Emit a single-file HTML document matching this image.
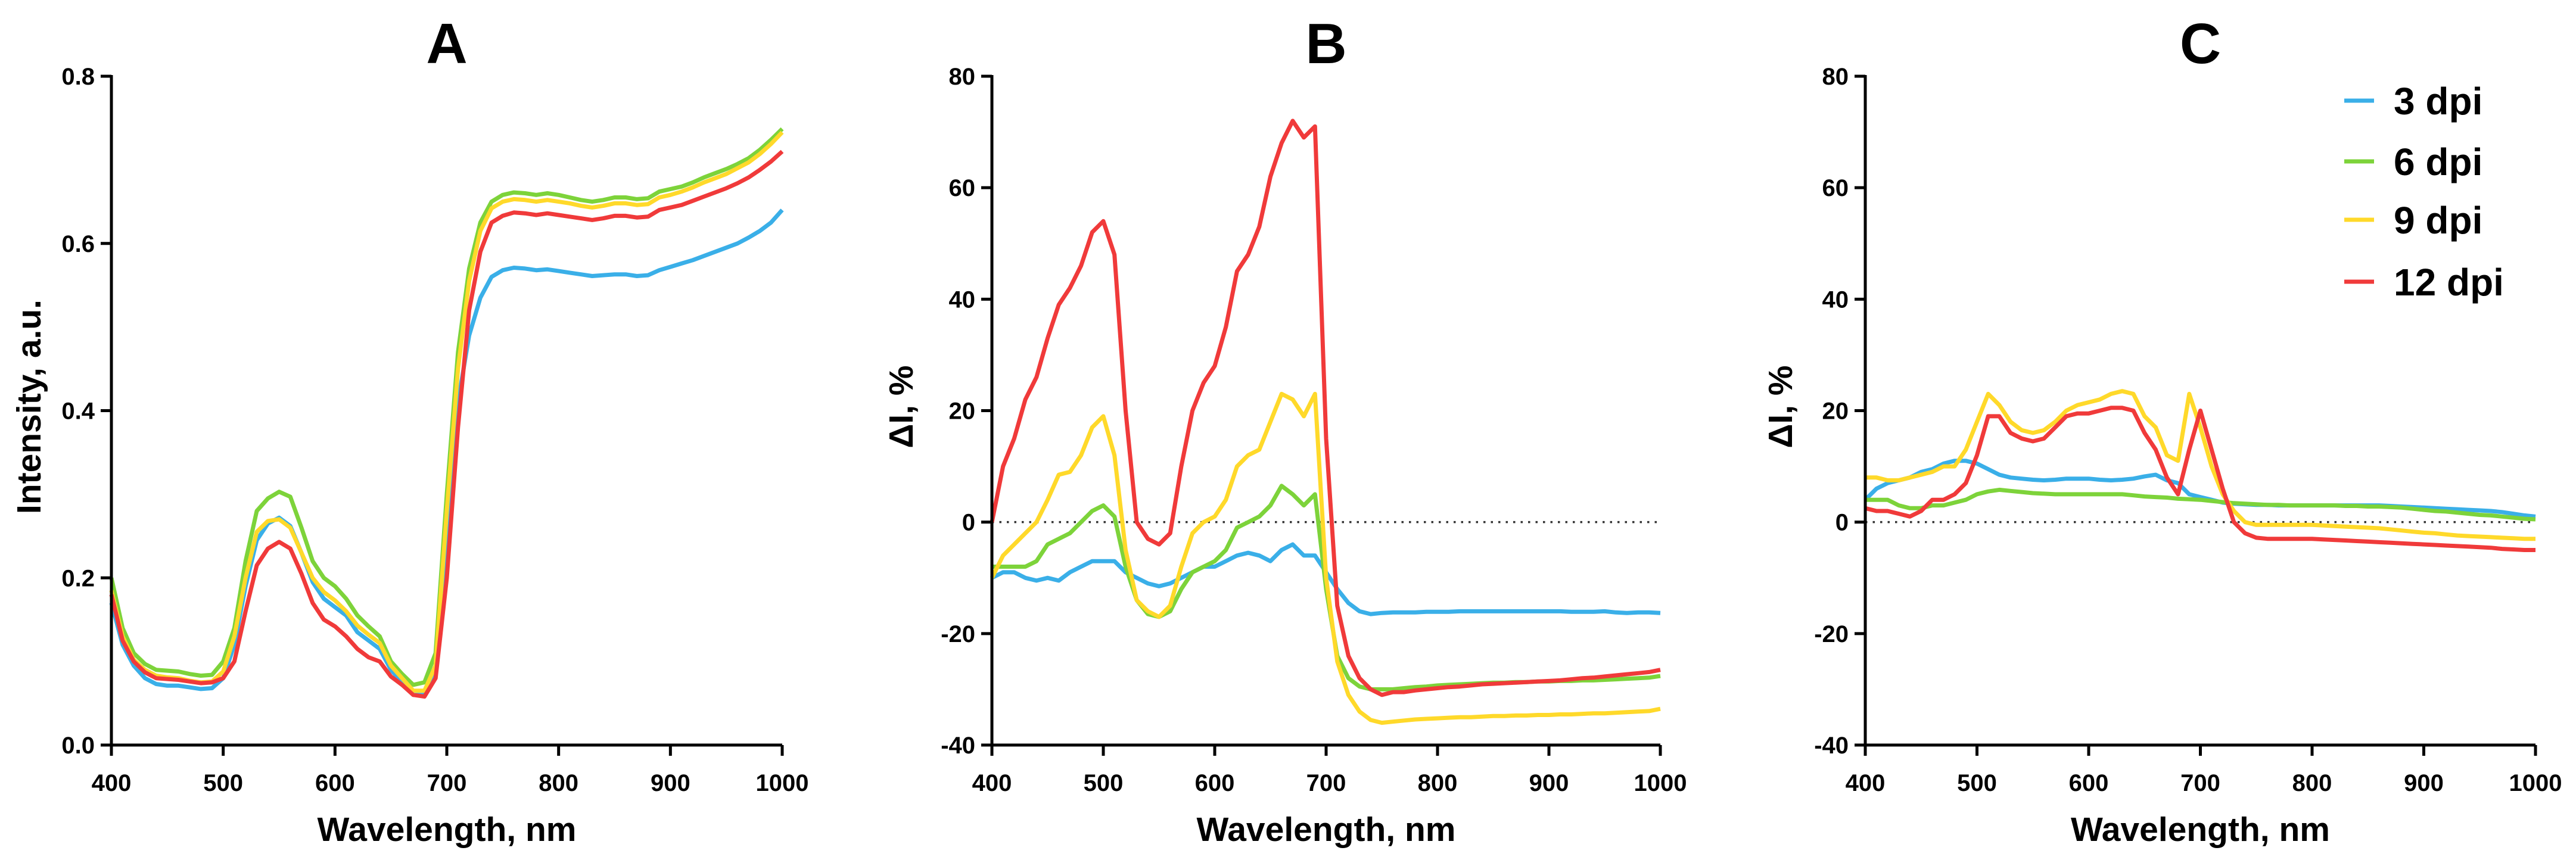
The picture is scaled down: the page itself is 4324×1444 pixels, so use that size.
<!DOCTYPE html>
<html><head><meta charset="utf-8"><style>
html,body{margin:0;padding:0;background:#fff;}
svg{display:block;}
text{font-family:"Liberation Sans",Arial,sans-serif;font-weight:bold;fill:#000;}
</style></head><body>
<svg id="fig" width="4324" height="1444" viewBox="0 0 4324 1444"></svg>
<script>
const wavelengths = [];
for (let w = 400; w <= 1000; w += 10) wavelengths.push(w);
const xTicks = [400,500,600,700,800,900,1000];
const yTicksA = [0,0.2,0.4,0.6,0.8];
const yTicksBC = [-40,-20,0,20,40,60,80];
const seriesNames = ["3 dpi","6 dpi","9 dpi","12 dpi"];

const A_blue = [0.17,0.12,0.095,0.08,0.073,0.071,0.071,0.069,0.067,0.068,0.08,0.12,0.19,0.245,0.265,0.272,0.262,0.23,0.195,0.175,0.165,0.155,0.135,0.125,0.115,0.09,0.075,0.06,0.06,0.09,0.25,0.41,0.49,0.535,0.56,0.568,0.571,0.57,0.568,0.569,0.567,0.565,0.563,0.561,0.562,0.563,0.563,0.561,0.562,0.568,0.572,0.576,0.58,0.585,0.59,0.595,0.6,0.607,0.615,0.625,0.64];
const A_green = [0.2,0.14,0.11,0.097,0.09,0.089,0.088,0.085,0.083,0.084,0.1,0.14,0.22,0.28,0.295,0.303,0.297,0.26,0.22,0.2,0.19,0.175,0.155,0.142,0.13,0.1,0.085,0.072,0.075,0.11,0.3,0.47,0.57,0.625,0.65,0.658,0.661,0.66,0.658,0.66,0.658,0.655,0.652,0.65,0.652,0.655,0.655,0.653,0.654,0.662,0.665,0.668,0.673,0.679,0.684,0.689,0.695,0.702,0.712,0.724,0.737];
const A_yellow = [0.185,0.13,0.102,0.09,0.083,0.081,0.08,0.077,0.075,0.076,0.088,0.13,0.2,0.255,0.268,0.27,0.26,0.23,0.2,0.183,0.173,0.16,0.143,0.132,0.122,0.095,0.08,0.065,0.065,0.095,0.28,0.45,0.555,0.615,0.642,0.65,0.653,0.652,0.65,0.652,0.65,0.648,0.645,0.643,0.645,0.648,0.648,0.646,0.647,0.655,0.658,0.662,0.667,0.673,0.678,0.683,0.69,0.697,0.707,0.719,0.733];
const A_red = [0.18,0.125,0.1,0.087,0.08,0.079,0.078,0.076,0.074,0.075,0.08,0.1,0.16,0.215,0.235,0.243,0.235,0.205,0.17,0.15,0.142,0.13,0.115,0.105,0.1,0.082,0.072,0.06,0.058,0.08,0.2,0.38,0.52,0.59,0.625,0.633,0.637,0.636,0.634,0.636,0.634,0.632,0.63,0.628,0.63,0.633,0.633,0.631,0.632,0.64,0.643,0.646,0.651,0.656,0.661,0.666,0.672,0.679,0.688,0.698,0.71];

const B_blue = [-10,-9,-9,-10,-10.5,-10,-10.5,-9,-8,-7,-7,-7,-9,-10,-11,-11.5,-11,-10,-9,-8,-8,-7,-6,-5.5,-6,-7,-5,-4,-6,-6,-9,-12,-14.5,-16,-16.5,-16.3,-16.2,-16.2,-16.2,-16.1,-16.1,-16.1,-16,-16,-16,-16,-16,-16,-16,-16,-16,-16,-16.1,-16.1,-16.1,-16,-16.2,-16.3,-16.2,-16.2,-16.3];
const B_green = [-8,-8,-8,-8,-7,-4,-3,-2,0,2,3,1,-8,-14,-16.5,-17,-16,-12,-9,-8,-7,-5,-1,0,1,3,6.5,5,3,5,-12,-24,-28,-29.5,-30,-30,-30,-29.8,-29.6,-29.5,-29.3,-29.2,-29.1,-29,-28.9,-28.8,-28.8,-28.7,-28.7,-28.6,-28.6,-28.5,-28.5,-28.4,-28.4,-28.3,-28.2,-28.1,-28,-27.9,-27.6];
const B_yellow = [-10,-6,-4,-2,0,4,8.5,9,12,17,19,12,-5,-14,-16,-17,-15,-8,-2,0,1,4,10,12,13,18,23,22,19,23,-10,-25,-31,-34,-35.5,-36,-35.8,-35.6,-35.4,-35.3,-35.2,-35.1,-35,-35,-34.9,-34.8,-34.8,-34.7,-34.7,-34.6,-34.6,-34.5,-34.5,-34.4,-34.3,-34.3,-34.2,-34.1,-34,-33.9,-33.5];
const B_red = [0,10,15,22,26,33,39,42,46,52,54,48,20,0,-3,-4,-2,10,20,25,28,35,45,48,53,62,68,72,69,71,15,-15,-24,-28,-30,-31,-30.5,-30.5,-30.2,-30,-29.8,-29.6,-29.5,-29.3,-29.1,-29,-28.9,-28.8,-28.7,-28.6,-28.5,-28.4,-28.2,-28,-27.9,-27.7,-27.5,-27.3,-27.1,-26.9,-26.5];

const C_blue = [4,6,7,7.5,8,9,9.5,10.5,11,11,10.5,9.5,8.5,8,7.8,7.6,7.5,7.6,7.8,7.8,7.8,7.6,7.5,7.6,7.8,8.2,8.5,7.5,7,5,4.5,4,3.5,3.3,3.2,3.1,3.1,3,3,3,3,3,3,3,3,3,3,2.9,2.8,2.7,2.6,2.5,2.4,2.3,2.2,2.1,2,1.8,1.5,1.2,1];
const C_green = [4,4,4,3,2.5,2.5,3,3,3.5,4,5,5.5,5.8,5.6,5.4,5.2,5.1,5,5,5,5,5,5,5,4.8,4.6,4.5,4.4,4.2,4.1,4,3.8,3.6,3.4,3.3,3.2,3.1,3.1,3,3,3,3,3,2.9,2.9,2.8,2.8,2.7,2.6,2.4,2.2,2,1.9,1.7,1.5,1.3,1.2,1,0.8,0.6,0.5];
const C_yellow = [8,8,7.5,7.5,8,8.5,9,10,10,13,18,23,21,18,16.5,16,16.5,18,20,21,21.5,22,23,23.5,23,19,17,12,11,23,17,10,5,2,0,-0.5,-0.5,-0.5,-0.5,-0.5,-0.5,-0.6,-0.7,-0.8,-0.9,-1,-1.1,-1.3,-1.5,-1.7,-1.9,-2,-2.2,-2.4,-2.5,-2.6,-2.7,-2.8,-2.9,-3,-3];
const C_red = [2.5,2,2,1.5,1,2,4,4,5,7,12,19,19,16,15,14.5,15,17,19,19.5,19.5,20,20.5,20.5,20,16,13,8,5,13,20,13,6,0,-2,-2.8,-3,-3,-3,-3,-3,-3.1,-3.2,-3.3,-3.4,-3.5,-3.6,-3.7,-3.8,-3.9,-4,-4.1,-4.2,-4.3,-4.4,-4.5,-4.6,-4.8,-4.9,-5,-5];

const colors = ["#3AAFE8","#7DD33A","#FFD92A","#F03A3A"];
const svg = document.getElementById('fig');
const NS = "http://www.w3.org/2000/svg";
function mk(tag, attrs, parent, txt){
  const e = document.createElementNS(NS, tag);
  for (const k in attrs) e.setAttribute(k, attrs[k]);
  if (txt !== undefined) e.textContent = txt;
  (parent||svg).appendChild(e);
  return e;
}

const panels = [
  {id:"a", letter:"A", x0:187, x1:1313, ymin:0, ymax:0.8, yt:yTicksA, fmt:v=>v.toFixed(1), ytitle:"Intensity, a.u.", ytx:48, series:[A_blue,A_green,A_yellow,A_red], zero:false},
  {id:"b", letter:"B", x0:1665, x1:2787, ymin:-40, ymax:80, yt:yTicksBC, fmt:v=>String(v), ytitle:"ΔI, %", ytx:1512, series:[B_blue,B_green,B_yellow,B_red], zero:true},
  {id:"c", letter:"C", x0:3131, x1:4256, ymin:-40, ymax:80, yt:yTicksBC, fmt:v=>String(v), ytitle:"ΔI, %", ytx:2988, series:[C_blue,C_green,C_yellow,C_red], zero:true}
];
const Y0 = 1251, Y1 = 128;

panels.forEach(p => {
  const g = mk('g', {});
  
  
  const sx = v => p.x0 + (v - 400) / 600 * (p.x1 - p.x0);
  const sy = v => Y0 - (v - p.ymin) / (p.ymax - p.ymin) * (Y0 - Y1);

  const t = mk('text', {x:(p.x0+p.x1)/2, y:106, 'text-anchor':'middle', 'font-size':96}, g, p.letter);
  
  

  if (p.zero) {
    const z = mk('line', {x1:p.x0, x2:p.x1, y1:sy(0), y2:sy(0), stroke:'#333', 'stroke-width':3.5, 'stroke-dasharray':'3.5 9'}, g);
    
    
  }

  p.series.forEach((s, i) => {
    const d = s.map((v, j) => (j ? 'L' : 'M') + sx(wavelengths[j]).toFixed(1) + ' ' + sy(v).toFixed(1)).join(' ');
    const path = mk('path', {d:d, fill:'none', stroke:colors[i], 'stroke-width':7, 'stroke-linejoin':'round'}, g);
    
    
  });

  const ax = mk('path', {d:`M${p.x0} ${Y1-2} L${p.x0} ${Y0} L${p.x1} ${Y0}`, fill:'none', stroke:'#000', 'stroke-width':5}, g);
  
  

  p.yt.forEach(v => {
    mk('line', {x1:p.x0-18, x2:p.x0, y1:sy(v), y2:sy(v), stroke:'#000', 'stroke-width':5}, g);
    const l = mk('text', {x:p.x0-28, y:sy(v)+14, 'text-anchor':'end', 'font-size':40}, g, p.fmt(v));
    
    
  });
  xTicks.forEach(v => {
    mk('line', {x1:sx(v), x2:sx(v), y1:Y0, y2:Y0+18, stroke:'#000', 'stroke-width':5}, g);
    const l = mk('text', {x:sx(v), y:Y0+77, 'text-anchor':'middle', 'font-size':40}, g, String(v));
    
    
  });
  const xt = mk('text', {x:(p.x0+p.x1)/2, y:1412, 'text-anchor':'middle', 'font-size':57}, g, 'Wavelength, nm');
  
  
  const yt = mk('text', {x:0, y:0, 'text-anchor':'middle', 'font-size':57, transform:`translate(${p.ytx+20},683) rotate(-90)`}, g, p.ytitle);
  
  
});

const lg = mk('g', {});


const legY = [169, 271, 369, 473];
seriesNames.forEach((n, i) => {
  const e = mk('g', {}, lg);
  
  
  mk('line', {x1:3935, x2:3985, y1:legY[i], y2:legY[i], stroke:colors[i], 'stroke-width':7}, e);
  mk('text', {x:4018, y:legY[i]+23, 'font-size':64}, e, n);
});
</script>
</body></html>
